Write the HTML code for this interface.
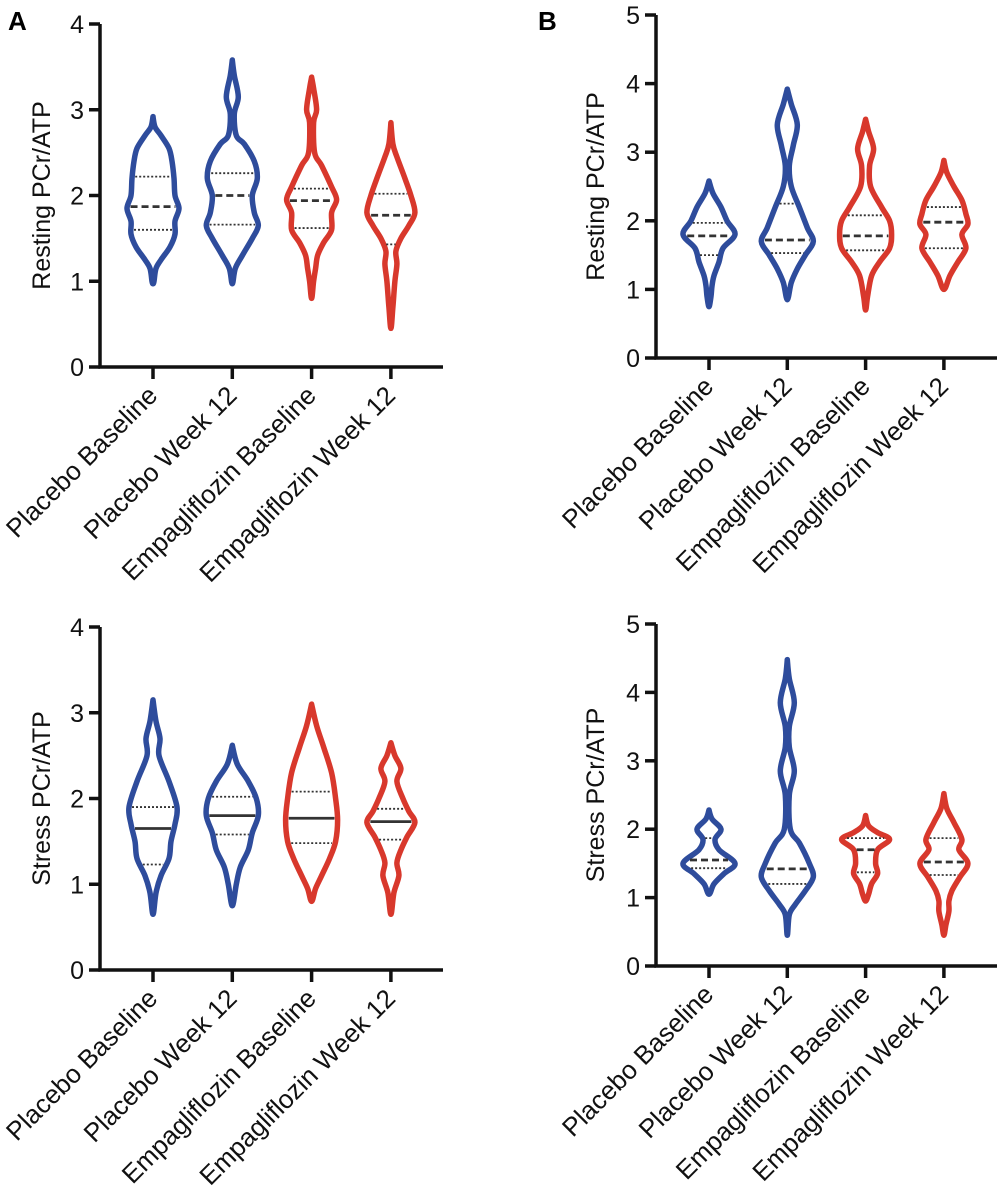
<!DOCTYPE html>
<html><head><meta charset="utf-8"><style>
html,body{margin:0;padding:0;background:#fff;}
svg{display:block;font-family:"Liberation Sans",Arial,sans-serif;}
</style></head><body>
<svg id="fig" width="1008" height="1200" viewBox="0 0 1008 1200">
<text x="8" y="30" font-size="26" font-weight="bold">A</text>
<text x="538" y="30" font-size="26" font-weight="bold">B</text>
</svg>
<script>
const categories = ["Placebo Baseline","Placebo Week 12","Empagliflozin Baseline","Empagliflozin Week 12"];
const groupColors = ["blue","blue","red","red"];
// density profiles: [value, relative half-width]
const restA = [
 [[2.92,0],[2.8,2],[2.7,8],[2.55,16],[2.4,19],[2.2,21],[2.0,22],[1.85,26],[1.7,22],[1.55,22],[1.4,17],[1.25,8],[1.15,3],[1.0,1],[0.97,0]],
 [[3.58,0],[3.4,2],[3.15,6],[2.95,2],[2.7,4],[2.6,12],[2.4,22],[2.2,25],[2.0,20],[1.8,22],[1.65,26],[1.5,20],[1.3,10],[1.15,3],[0.97,0]],
 [[3.38,0],[3.25,2],[3.0,5],[2.85,2],[2.5,3],[2.35,10],[2.1,20],[1.95,25],[1.8,20],[1.6,20],[1.45,12],[1.3,6],[1.15,4],[1.0,2],[0.8,0]],
 [[2.85,0],[2.6,2],[2.45,6],[2.2,14],[2.0,20],[1.8,24],[1.65,18],[1.5,10],[1.35,5],[1.2,6],[1.0,4],[0.7,2],[0.45,0]]
];
const restAStats = [[1.87,1.6,2.22],[2.0,1.66,2.26],[1.94,1.62,2.08],[1.77,1.43,2.02]];
const restB = [
 [[2.58,0],[2.4,4],[2.2,12],[2.0,18],[1.8,26],[1.6,14],[1.4,10],[1.2,5],[1.05,3],[0.9,2],[0.75,0]],
 [[3.92,0],[3.7,4],[3.4,10],[3.1,6],[2.8,2],[2.5,4],[2.2,12],[1.9,20],[1.7,26],[1.5,18],[1.3,10],[1.1,4],[0.85,0]],
 [[3.48,0],[3.3,3],[3.05,8],[2.8,4],[2.5,5],[2.2,16],[2.0,24],[1.8,26],[1.6,24],[1.4,14],[1.2,6],[0.9,2],[0.7,0]],
 [[2.88,0],[2.7,3],[2.5,10],[2.3,18],[2.1,22],[1.95,24],[1.8,18],[1.6,22],[1.4,14],[1.2,6],[1.0,0]]
];
const restBStats = [[1.78,1.5,1.97],[1.72,1.53,2.25],[1.78,1.57,2.08],[1.98,1.6,2.2]];
const stressA = [
 [[3.15,0],[2.9,3],[2.7,7],[2.5,6],[2.2,16],[1.9,24],[1.7,22],[1.5,18],[1.3,16],[1.1,8],[0.9,3],[0.65,0]],
 [[2.62,0],[2.4,5],[2.2,16],[2.0,24],[1.8,26],[1.6,20],[1.4,16],[1.2,8],[1.0,4],[0.75,0]],
 [[3.1,0],[2.85,5],[2.6,12],[2.3,20],[2.0,24],[1.75,26],[1.5,24],[1.3,18],[1.1,10],[0.95,4],[0.8,0]],
 [[2.65,0],[2.5,4],[2.35,10],[2.2,6],[2.0,12],[1.85,18],[1.72,24],[1.55,16],[1.4,10],[1.25,6],[1.1,8],[0.9,3],[0.65,0]]
];
const stressAStats = [[1.65,1.23,1.9],[1.8,1.58,2.02],[1.77,1.48,2.08],[1.73,1.52,1.88]];
const stressB = [
 [[2.28,0],[2.15,3],[2.0,12],[1.85,6],[1.7,10],[1.5,26],[1.35,15],[1.2,5],[1.05,0]],
 [[4.48,0],[4.2,2],[3.85,7],[3.5,2],[3.2,2],[2.85,7],[2.5,2],[2.0,3],[1.8,12],[1.5,22],[1.3,26],[1.1,18],[0.9,8],[0.75,2],[0.45,0]],
 [[2.2,0],[2.05,3],[1.95,12],[1.85,24],[1.7,12],[1.5,10],[1.35,12],[1.2,6],[1.05,3],[0.95,0]],
 [[2.52,0],[2.3,3],[2.1,10],[1.85,18],[1.7,15],[1.5,24],[1.3,16],[1.1,8],[0.95,5],[0.8,5],[0.6,2],[0.45,0]]
];
const stressBStats = [[1.55,1.43,1.87],[1.42,1.2,null],[1.7,1.37,1.87],[1.52,1.33,1.87]];
const ticksA = [0,1,2,3,4];
const ticksB = [0,1,2,3,4,5];

const NS="http://www.w3.org/2000/svg";
const svg=document.getElementById('fig');
const COL={blue:"#2e4c9c",red:"#d8382c"};
function mk(tag,attrs,parent){const e=document.createElementNS(NS,tag);for(const k in attrs)e.setAttribute(k,attrs[k]);(parent||svg).appendChild(e);return e;}

function spline(pts){
  let d="M"+pts[0][0]+","+pts[0][1];
  for(let i=0;i<pts.length-1;i++){
    const p0=pts[Math.max(0,i-1)],p1=pts[i],p2=pts[i+1],p3=pts[Math.min(pts.length-1,i+2)];
    const t=0.5/3;
    const c1=[p1[0]+(p2[0]-p0[0])*t,p1[1]+(p2[1]-p0[1])*t];
    const c2=[p2[0]-(p3[0]-p1[0])*t,p2[1]-(p3[1]-p1[1])*t];
    d+=" C"+c1[0].toFixed(1)+","+c1[1].toFixed(1)+" "+c2[0].toFixed(1)+","+c2[1].toFixed(1)+" "+p2[0].toFixed(1)+","+p2[1].toFixed(1);
  }
  return d;
}
function halfAt(prof,v){
  for(let i=0;i<prof.length-1;i++){const a=prof[i],b=prof[i+1];
    if(v<=a[0]&&v>=b[0]){const f=(a[0]-v)/(a[0]-b[0]);return a[1]+(b[1]-a[1])*f;}}
  return 0;
}

function panel(cfg){
  const g=mk('g',{});
  
  
  const yMax=cfg.ticks[cfg.ticks.length-1];
  const y=v=>cfg.y0-(cfg.y0-cfg.yTop)*v/yMax;
  const x=i=>cfg.x0+cfg.first+i*cfg.step;
  const ax=mk('path',{d:`M${cfg.x0},${cfg.yTop} V${cfg.y0} H${cfg.xEnd}`,stroke:"#111","stroke-width":3.5,fill:"none"},g);
  
  
  cfg.ticks.forEach(t=>{
    const l=mk('line',{x1:cfg.x0-11,x2:cfg.x0,y1:y(t),y2:y(t),stroke:"#111","stroke-width":3.5},g);
    
    
    const tx=mk('text',{x:cfg.x0-16,y:y(t)+9,"font-size":25,"text-anchor":"end",fill:"#111"},g);
    tx.textContent=t;
    
    
  });
  const yt=mk('text',{transform:`translate(${cfg.titleX},${(cfg.y0+cfg.yTop)/2}) rotate(-90)`,"font-size":25,"text-anchor":"middle",fill:"#111"},g);
  yt.textContent=cfg.title;
  
  
  categories.forEach((c,i)=>{
    const l=mk('line',{x1:x(i),x2:x(i),y1:cfg.y0,y2:cfg.y0+12,stroke:"#111","stroke-width":3.5},g);
    
    
    const tx=mk('text',{transform:`translate(${x(i)+6},${cfg.y0+30}) rotate(-45)`,"font-size":26,"text-anchor":"end",fill:"#111"},g);
    tx.textContent=c;
    
    
    const prof=cfg.data[i], cx=x(i), col=COL[groupColors[i]];
    const right=prof.map(p=>[cx+p[1],y(p[0])]);
    const left=prof.slice().reverse().map(p=>[cx-p[1],y(p[0])]);
    const pts=right.concat(left.slice(1));
    const v=mk('path',{d:spline(pts)+" Z",fill:"none",stroke:col,"stroke-width":5.5,"stroke-linejoin":"round"},g);
    
    
    const st=cfg.stats[i];
    st.forEach((s,k)=>{
      if(s===null)return;
      const w=Math.max(halfAt(prof,s)-3,2);
      const isMed=k===0;
      const ln=mk('line',{x1:cx-w,x2:cx+w,y1:y(s),y2:y(s),stroke:"#333","stroke-width":isMed?2.8:1.8,"stroke-dasharray":isMed?(cfg.solidMedian?"none":"7,4"):"2,2"},g);
      
      
    });
  });
}
panel({name:'panel-a-resting',data:restA,stats:restAStats,ticks:ticksA,x0:100,xEnd:443,y0:367,yTop:24,first:53,step:79.3,title:'Resting PCr/ATP',titleX:50,solidMedian:false});
panel({name:'panel-b-resting',data:restB,stats:restBStats,ticks:ticksB,x0:656,xEnd:997,y0:358,yTop:15,first:53,step:78.3,title:'Resting PCr/ATP',titleX:604,solidMedian:false});
panel({name:'panel-a-stress',data:stressA,stats:stressAStats,ticks:ticksA,x0:100,xEnd:443,y0:970,yTop:627,first:53,step:79.3,title:'Stress PCr/ATP',titleX:50,solidMedian:true});
panel({name:'panel-b-stress',data:stressB,stats:stressBStats,ticks:ticksB,x0:656,xEnd:997,y0:966,yTop:624,first:53,step:78.3,title:'Stress PCr/ATP',titleX:604,solidMedian:false});
</script>
</body></html>
